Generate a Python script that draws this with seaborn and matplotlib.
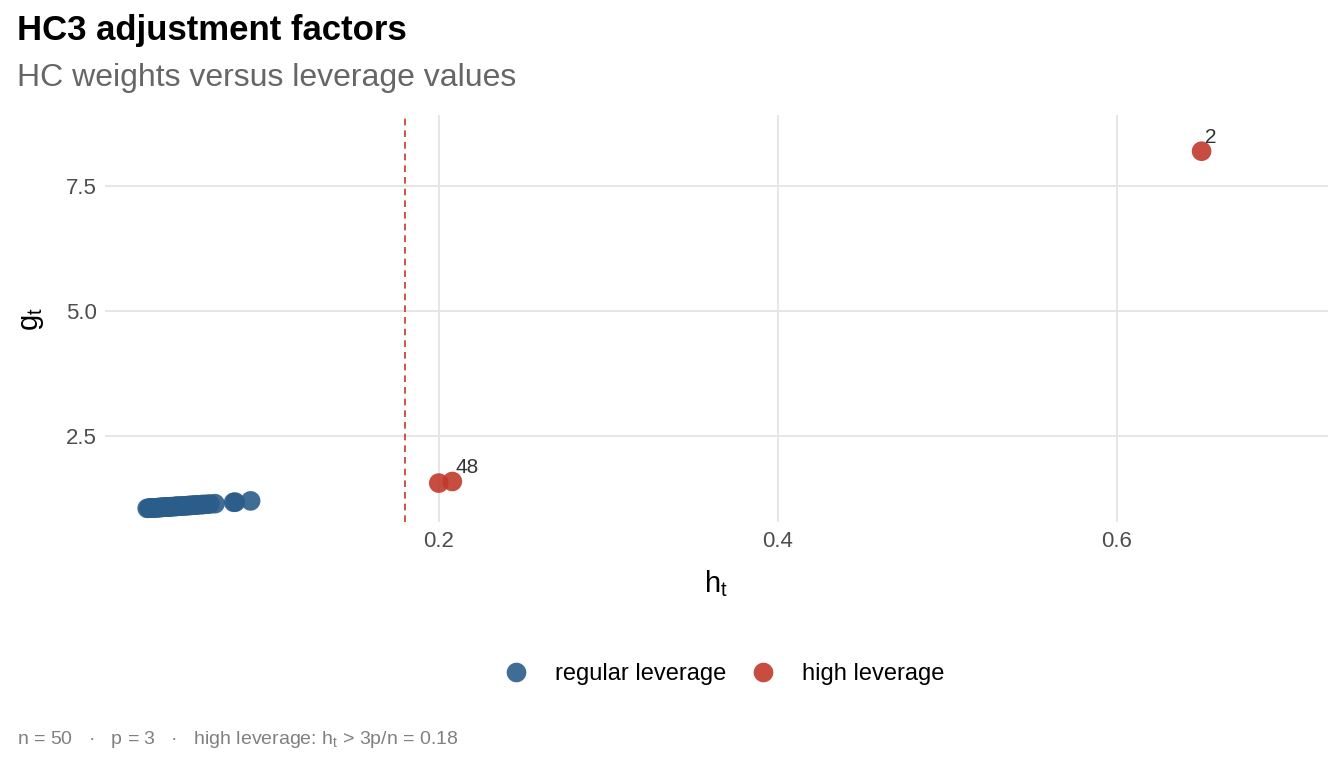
import numpy as np
import pandas as pd
import matplotlib
matplotlib.use("Agg")
import matplotlib.pyplot as plt
import seaborn as sns

# leverage values h_t and HC3 weights g_t
h_regular = [0.028, 0.029, 0.030, 0.030, 0.031, 0.032, 0.032, 0.033, 0.034, 0.034,
             0.035, 0.036, 0.036, 0.037, 0.038, 0.038, 0.039, 0.040, 0.040, 0.041,
             0.042, 0.042, 0.043, 0.044, 0.045, 0.045, 0.046, 0.047, 0.048, 0.049,
             0.050, 0.051, 0.052, 0.053, 0.054, 0.055, 0.056, 0.057, 0.058, 0.060,
             0.061, 0.063, 0.065, 0.068, 0.079, 0.080, 0.089]
g_regular = [1.058, 1.060, 1.063, 1.063, 1.065, 1.068, 1.068, 1.069, 1.071, 1.071,
             1.074, 1.076, 1.076, 1.078, 1.081, 1.081, 1.082, 1.085, 1.085, 1.087,
             1.090, 1.090, 1.092, 1.094, 1.097, 1.097, 1.099, 1.101, 1.104, 1.106,
             1.108, 1.110, 1.113, 1.115, 1.118, 1.120, 1.122, 1.125, 1.127, 1.132,
             1.135, 1.139, 1.144, 1.151, 1.179, 1.181, 1.207]
h_high = [0.200, 0.208, 0.650]
g_high = [1.563, 1.595, 8.200]
high_labels = ["", "48", "2"]
threshold = 0.18

df = pd.DataFrame({
    "h": h_regular + h_high,
    "g": g_regular + g_high,
    "group": ["regular leverage"] * len(h_regular) + ["high leverage"] * len(h_high),
})

sns.set_style("white")
plt.rcParams["font.family"] = ["Liberation Sans", "DejaVu Sans"]
plt.rcParams["text.color"] = "black"
plt.rcParams["axes.labelcolor"] = "black"

fig = plt.figure(figsize=(13.44, 7.68), dpi=100)
ax = fig.add_axes([0.078, 0.320, 0.910, 0.530])

pal = {"regular leverage": "#2b5d8a", "high leverage": "#c0392b"}
sns.scatterplot(data=df, x="h", y="g", hue="group", palette=pal, s=200,
                alpha=0.9, edgecolor="none", ax=ax, zorder=3)

ax.axvline(threshold, color="#c0392b", linestyle=(0, (4, 3)), linewidth=1.2, zorder=2)

for h, g, lab in zip(h_high, g_high, high_labels):
    if lab:
        ax.annotate(lab, (h, g), xytext=(2.5, 3), textcoords="offset points",
                    fontsize=15, color="#333333", ha="left", va="bottom")

ax.set_xlim(0.003, 0.7245)
ax.set_ylim(0.78, 8.92)
ax.set_xticks([0.2, 0.4, 0.6])
ax.set_xticklabels(["0.2", "0.4", "0.6"])
ax.set_yticks([2.5, 5.0, 7.5])
ax.set_yticklabels(["2.5", "5.0", "7.5"])
ax.grid(True, color="#e6e6e6", linewidth=1.4)
ax.set_axisbelow(True)
for sp in ax.spines.values():
    sp.set_visible(False)
ax.tick_params(axis="both", length=0, labelsize=16, labelcolor="#4d4d4d", pad=6)

ax.set_xlabel(r"$\mathregular{h_t}$", fontsize=21, labelpad=12)
ax.set_ylabel(r"$\mathregular{g_t}$", fontsize=21, labelpad=14)

handles, labels = ax.get_legend_handles_labels()
ax.legend_.remove()
fig.legend(handles, labels, loc="center", bbox_to_anchor=(0.5345, 0.122), ncol=2,
           frameon=False, fontsize=17, handletextpad=0.65, columnspacing=0.55,
           markerscale=1.0)

fig.text(0.0125, 1 - 40 / 768, "HC3 adjustment factors", fontsize=25,
         fontweight="bold", color="black", ha="left", va="baseline")
fig.text(0.0125, 1 - 86 / 768, "HC weights versus leverage values", fontsize=23,
         color="#666666", ha="left", va="baseline")
fig.text(0.0125, 1 - 744 / 768,
         r"n = 50   ·   p = 3   ·   high leverage: $\mathregular{h_t}$ > 3p/n = 0.18",
         fontsize=14, color="#808080", ha="left", va="baseline")

fig.savefig("out.png", dpi=100)
